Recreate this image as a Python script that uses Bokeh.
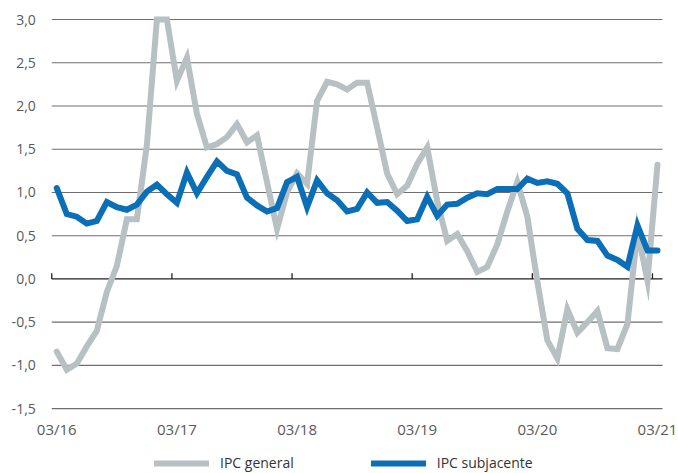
from bokeh.plotting import figure
from bokeh.models import Range1d, Legend, LegendItem
from bokeh.core.properties import value
from bokeh.embed import file_html
from bokeh.resources import INLINE

# Months 03/16 .. 03/21
months = [f"{m:02d}/{y:02d}" for y in range(16, 22) for m in range(1, 13)][2:63]

ipc_general = [-0.84, -1.05, -0.98, -0.78, -0.60, -0.15, 0.15, 0.69, 0.69, 1.55,
               3.0, 3.0, 2.29, 2.56, 1.91, 1.52, 1.56, 1.64, 1.79, 1.58,
               1.66, 1.12, 0.58, 1.00, 1.22, 1.10, 2.06, 2.28, 2.25, 2.19,
               2.27, 2.27, 1.75, 1.22, 0.98, 1.08, 1.33, 1.52, 0.90, 0.44,
               0.52, 0.32, 0.08, 0.14, 0.40, 0.78, 1.12, 0.72, -0.03, -0.71,
               -0.92, -0.35, -0.62, -0.50, -0.37, -0.80, -0.81, -0.52, 0.55, -0.02,
               1.32]

ipc_subyacente = [1.05, 0.75, 0.72, 0.64, 0.67, 0.89, 0.83, 0.80, 0.86, 1.01,
                  1.09, 0.98, 0.88, 1.23, 0.99, 1.18, 1.36, 1.25, 1.21, 0.94,
                  0.85, 0.78, 0.82, 1.12, 1.18, 0.83, 1.14, 0.99, 0.91, 0.78,
                  0.81, 1.00, 0.88, 0.89, 0.79, 0.67, 0.69, 0.95, 0.73, 0.86,
                  0.87, 0.94, 0.99, 0.98, 1.04, 1.04, 1.04, 1.16, 1.11, 1.13,
                  1.10, 0.99, 0.58, 0.45, 0.44, 0.27, 0.22, 0.14, 0.62, 0.33,
                  0.33]

y_ticks = [-1.5, -1.0, -0.5, 0.0, 0.5, 1.0, 1.5, 2.0, 2.5, 3.0]
series_labels = ["IPC general", "IPC subjacente"]

GREY = "#b7c0c3"
BLUE = "#0a6fb6"
AXIS = "#231f20"
GRID = "#6e6e6e"
LABEL = "#58595b"
FONT = value("Open Sans")

n = len(months)
x = [i + 0.5 for i in range(n)]                      # category centres
label_idx = [i for i, m in enumerate(months) if m.startswith("03/")]
label_x = [x[i] for i in label_idx]
label_text = [months[i] for i in label_idx]
tick_bounds = [v - 0.5 for v in label_x]             # category boundaries
y_labels = [f"{t:.1f}".replace(".", ",") for t in y_ticks]
y_min = min(y_ticks)
grid_ticks = [t for t in y_ticks if t != 0]

# plot area occupies the whole canvas; ranges padded so the chart body
# sits at the reference position and the labels fit around it
p = figure(width=678, height=473,
           x_range=Range1d(-5.12, n + 1.6), y_range=Range1d(-2.25, 3.22),
           x_axis_location=None, y_axis_location=None,
           output_backend="svg", toolbar_location=None,
           min_border_left=0, min_border_right=0, min_border_top=0, min_border_bottom=0)
p.outline_line_color = None
p.background_fill_color = "white"
p.grid.visible = False

# horizontal gridlines
p.segment(x0=[0] * len(grid_ticks), x1=[n] * len(grid_ticks), y0=grid_ticks, y1=grid_ticks,
          line_color=GRID, line_width=1.1)
# zero axis line with tick marks between categories
p.segment(x0=[0], x1=[n], y0=[0], y1=[0], line_color=AXIS, line_width=1.3)
p.segment(x0=tick_bounds, y0=[0] * len(tick_bounds), x1=tick_bounds,
          y1=[0.065] * len(tick_bounds), line_color=AXIS, line_width=1.3)

# y labels
p.text(x=[0] * len(y_ticks), y=y_ticks, text=y_labels, x_offset=-16,
       text_align="right", text_baseline="middle",
       text_font=FONT, text_font_size="14px", text_color=LABEL)
# x labels
p.text(x=label_x, y=[y_min] * len(label_x), text=label_text, y_offset=10,
       text_align="center", text_baseline="top",
       text_font=FONT, text_font_size="15px", text_color=LABEL)

r1 = p.line(x, ipc_general, line_color=GREY, line_width=6, line_join="miter", line_cap="round")
r2 = p.line(x, ipc_subyacente, line_color=BLUE, line_width=6, line_join="miter", line_cap="round")

legend = Legend(items=[LegendItem(label=series_labels[0], renderers=[r1]),
                       LegendItem(label=series_labels[1], renderers=[r2])],
                orientation="horizontal", location=(154, 1),
                glyph_width=55, glyph_height=14, label_standoff=11, spacing=77,
                padding=0, margin=0, border_line_color=None, background_fill_alpha=0,
                label_text_font="Open Sans", label_text_font_size="14px",
                label_text_color="#333333", label_height=14)
p.add_layout(legend, "center")

open("out.html", "w").write(file_html(p, INLINE))
